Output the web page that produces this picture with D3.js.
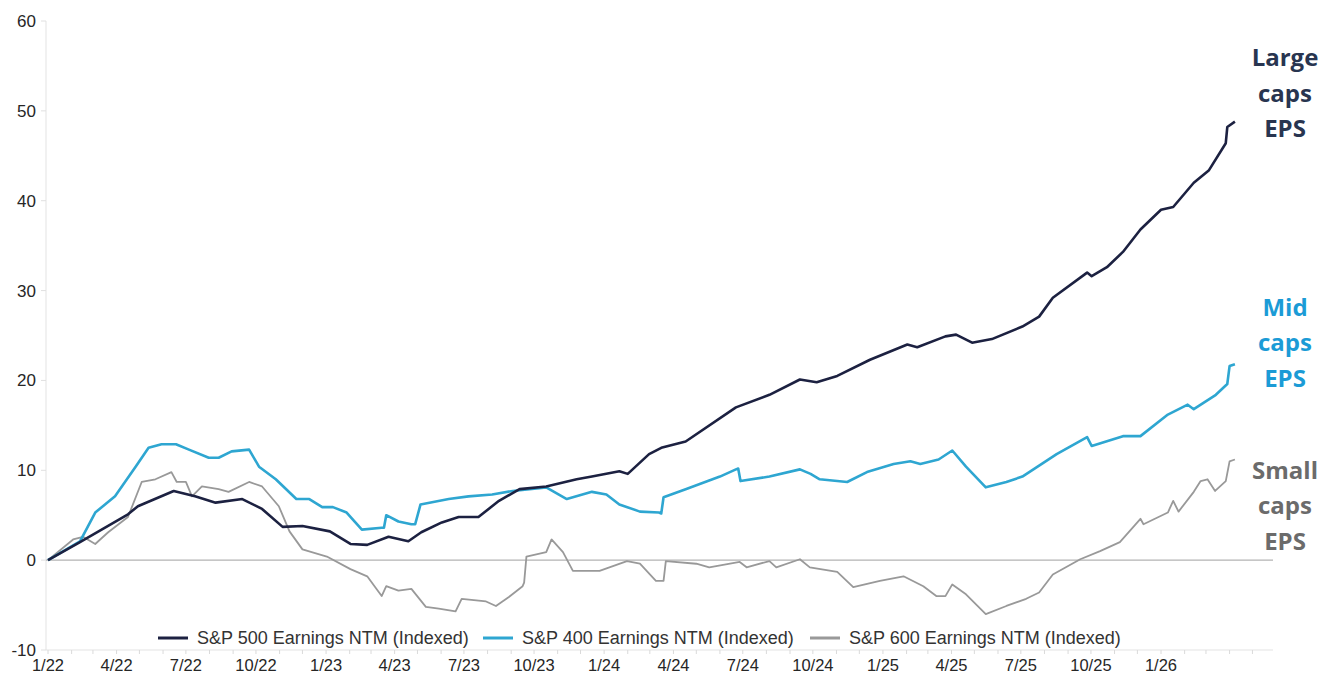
<!DOCTYPE html>
<html>
<head>
<meta charset="utf-8">
<script src="https://cdn.jsdelivr.net/npm/d3@7"></script>
<style>
  html, body { margin: 0; padding: 0; background: #fff; }
  svg { display: block; }
</style>
</head>
<body>
<svg id="chart" width="1322" height="677"></svg>
<script>
// ---------------- DATA ----------------
const yTicks = [-10, 0, 10, 20, 30, 40, 50, 60];
const xTickLabels = ["1/22","4/22","7/22","10/22","1/23","4/23","7/23","10/23","1/24","4/24","7/24","10/24","1/25","4/25","7/25","10/25","1/26"];

const largeDates = ["2022-01-01","2022-02-12","2022-04-16","2022-04-29","2022-06-15","2022-07-13","2022-08-09","2022-09-13","2022-10-09","2022-11-05","2022-12-01","2023-01-06","2023-02-02","2023-02-24","2023-03-24","2023-04-19","2023-05-06","2023-06-02","2023-06-24","2023-07-20","2023-08-16","2023-09-12","2023-10-17","2023-11-26","2023-12-16","2024-01-21","2024-02-01","2024-02-29","2024-03-16","2024-04-17","2024-06-22","2024-08-05","2024-09-14","2024-10-06","2024-11-02","2024-12-15","2025-02-02","2025-02-15","2025-03-24","2025-04-07","2025-04-28","2025-05-24","2025-07-03","2025-07-25","2025-08-12","2025-09-26","2025-10-02","2025-10-22","2025-11-12","2025-12-05","2026-01-01","2026-01-17","2026-02-13","2026-03-05","2026-03-27","2026-03-29","2026-04-08"];
const largeValues = [0,2.0,5.1,6.0,7.7,7.1,6.4,6.8,5.7,3.7,3.8,3.2,1.8,1.7,2.6,2.1,3.1,4.2,4.8,4.8,6.6,7.9,8.2,9.0,9.3,9.9,9.6,11.8,12.5,13.2,17.0,18.4,20.1,19.8,20.5,22.3,24.0,23.7,24.9,25.1,24.2,24.6,26.0,27.1,29.2,32.0,31.6,32.6,34.3,36.8,39.0,39.3,42.0,43.4,46.4,48.2,48.8];

const midDates = ["2022-01-01","2022-02-12","2022-03-04","2022-03-30","2022-04-26","2022-05-13","2022-05-30","2022-06-18","2022-07-05","2022-07-31","2022-08-13","2022-08-30","2022-09-22","2022-10-05","2022-10-27","2022-11-23","2022-12-10","2022-12-27","2023-01-10","2023-01-28","2023-02-17","2023-03-15","2023-03-18","2023-03-21","2023-04-06","2023-04-23","2023-04-28","2023-05-05","2023-06-11","2023-07-07","2023-08-07","2023-09-03","2023-10-17","2023-11-13","2023-12-16","2024-01-04","2024-01-21","2024-02-17","2024-03-13","2024-03-16","2024-03-19","2024-04-17","2024-06-01","2024-06-22","2024-06-25","2024-06-28","2024-08-05","2024-09-14","2024-09-28","2024-10-10","2024-11-15","2024-12-11","2025-01-15","2025-02-06","2025-02-19","2025-03-15","2025-04-02","2025-04-20","2025-05-16","2025-06-12","2025-07-03","2025-08-17","2025-09-26","2025-10-02","2025-11-12","2025-12-05","2026-01-10","2026-02-05","2026-02-13","2026-03-14","2026-03-29","2026-04-01","2026-04-08"];
const midValues = [0,2.1,5.3,7.1,10.4,12.5,12.9,12.9,12.3,11.4,11.4,12.1,12.3,10.4,9.0,6.8,6.8,5.9,5.9,5.3,3.4,3.6,3.6,5.0,4.3,4.0,4.0,6.2,6.8,7.1,7.3,7.7,8.1,6.8,7.6,7.3,6.2,5.4,5.3,5.2,7.0,7.9,9.3,10.1,10.2,8.8,9.3,10.1,9.6,9.0,8.7,9.8,10.7,11.0,10.7,11.2,12.2,10.4,8.1,8.7,9.3,11.8,13.7,12.7,13.8,13.8,16.2,17.3,16.8,18.4,19.6,21.6,21.8];

const smallDates = ["2022-01-01","2022-02-03","2022-02-16","2022-03-04","2022-03-21","2022-04-16","2022-05-04","2022-05-22","2022-06-12","2022-06-19","2022-07-01","2022-07-09","2022-07-22","2022-08-13","2022-08-26","2022-09-22","2022-10-09","2022-10-31","2022-11-14","2022-12-01","2023-01-02","2023-02-02","2023-02-24","2023-03-15","2023-03-21","2023-04-06","2023-04-23","2023-05-12","2023-05-29","2023-06-20","2023-06-28","2023-07-30","2023-08-12","2023-08-29","2023-09-16","2023-09-18","2023-09-21","2023-10-17","2023-10-24","2023-11-08","2023-11-21","2023-12-26","2024-01-31","2024-02-17","2024-03-09","2024-03-19","2024-03-22","2024-05-01","2024-05-18","2024-06-27","2024-07-06","2024-08-05","2024-08-14","2024-09-14","2024-09-27","2024-11-02","2024-11-23","2024-12-28","2025-01-28","2025-02-23","2025-03-12","2025-03-24","2025-04-02","2025-04-20","2025-05-16","2025-06-12","2025-07-08","2025-07-25","2025-08-12","2025-09-17","2025-10-13","2025-11-08","2025-12-05","2025-12-09","2026-01-10","2026-01-17","2026-01-24","2026-02-13","2026-02-22","2026-03-03","2026-03-13","2026-03-27","2026-04-01","2026-04-08"];
const smallValues = [0,2.3,2.6,1.8,3.1,4.8,8.7,9.0,9.8,8.7,8.7,7.1,8.2,7.9,7.6,8.7,8.2,6.0,3.2,1.2,0.4,-1.0,-1.8,-4.0,-2.9,-3.4,-3.2,-5.2,-5.4,-5.7,-4.3,-4.6,-5.1,-4.1,-2.9,-2.5,0.4,0.9,2.3,0.9,-1.2,-1.2,-0.1,-0.4,-2.3,-2.3,-0.1,-0.4,-0.8,-0.2,-0.8,-0.1,-0.8,0.1,-0.8,-1.3,-3.0,-2.3,-1.8,-2.9,-4.0,-4.0,-2.7,-3.8,-6.0,-5.1,-4.3,-3.6,-1.6,0.1,1.0,2.0,4.6,4.0,5.3,6.6,5.4,7.6,8.8,9.0,7.7,8.8,11.0,11.2];

const seriesNames = ["S&P 500 Earnings NTM (Indexed)", "S&P 400 Earnings NTM (Indexed)", "S&P 600 Earnings NTM (Indexed)"];
const seriesColors = ["#1c2141", "#2ea6d1", "#999999"];
const endLabels = [["Large","caps","EPS"], ["Mid","caps","EPS"], ["Small","caps","EPS"]];
const endLabelColors = ["#283550", "#1b9bd6", "#6b6b6b"];

// ---------------- CHART ----------------
const parse = d3.timeParse("%Y-%m-%d");
const svg = d3.select("#chart");
const font = "'Liberation Sans', Arial, sans-serif";

const x = d3.scaleTime()
  .domain([parse("2022-01-01"), parse("2026-05-28")])
  .range([48, 1273]);
const y = d3.scaleLinear().domain([-10, 60]).range([650, 21]);

// y axis line
svg.append("line").attr("x1", 46).attr("x2", 46).attr("y1", 21).attr("y2", 650)
  .attr("stroke", "#e3e3e3").attr("stroke-width", 1);

// y ticks + labels
const yg = svg.append("g");
yTicks.forEach(t => {
  yg.append("line").attr("x1", 41).attr("x2", 46).attr("y1", y(t)).attr("y2", y(t))
    .attr("stroke", "#e0e0e0");
  yg.append("text").attr("x", 36).attr("y", y(t)).attr("dy", "0.35em")
    .attr("text-anchor", "end").attr("font-family", font).attr("font-size", 17)
    .attr("fill", "#262626").text(t);
});

// bottom axis line at -10
svg.append("line").attr("x1", 46).attr("x2", 1273).attr("y1", y(-10)).attr("y2", y(-10))
  .attr("stroke", "#e3e3e3");

// monthly minor ticks
const months = d3.timeMonth.range(parse("2022-01-01"), parse("2026-05-02"));
svg.append("g").selectAll("line").data(months).join("line")
  .attr("x1", d => x(d)).attr("x2", d => x(d))
  .attr("y1", y(-10)).attr("y2", y(-10) + 4)
  .attr("stroke", "#dadada");

// quarterly labels
const quarters = d3.timeMonth.every(3).range(parse("2022-01-01"), parse("2026-01-02"));
svg.append("g").selectAll("text").data(quarters).join("text")
  .attr("x", d => x(d)).attr("y", 671)
  .attr("text-anchor", "middle").attr("font-family", font).attr("font-size", 16.5)
  .attr("fill", "#262626")
  .text((d, i) => xTickLabels[i]);

// zero line
svg.append("line").attr("x1", 46).attr("x2", 1273).attr("y1", y(0)).attr("y2", y(0))
  .attr("stroke", "#b3b3b3").attr("stroke-width", 1.2);

// series
const series = [
  largeDates.map((d, i) => ({ date: parse(d), value: largeValues[i] })),
  midDates.map((d, i) => ({ date: parse(d), value: midValues[i] })),
  smallDates.map((d, i) => ({ date: parse(d), value: smallValues[i] }))
];
const widths = [2.6, 2.6, 1.8];
const line = d3.line().x(d => x(d.date)).y(d => y(d.value));
[2, 1, 0].forEach(k => {
  svg.append("path").datum(series[k])
    .attr("fill", "none").attr("stroke", seriesColors[k])
    .attr("stroke-width", widths[k]).attr("stroke-linejoin", "round")
    .attr("d", line);
});

// legend
const legendX = [158, 483, 810];
seriesNames.forEach((n, i) => {
  svg.append("line").attr("x1", legendX[i]).attr("x2", legendX[i] + 30)
    .attr("y1", 638).attr("y2", 638)
    .attr("stroke", seriesColors[i]).attr("stroke-width", 3);
  svg.append("text").attr("x", legendX[i] + 39).attr("y", 638).attr("dy", "0.35em")
    .attr("font-family", font).attr("font-size", 18).attr("fill", "#333")
    .text(n);
});

// end labels
const labelBase = [66, 315.5, 478.5];
endLabels.forEach((lines, i) => {
  lines.forEach((t, j) => {
    svg.append("text").attr("x", 1285).attr("y", labelBase[i] + j * 35.5)
      .attr("text-anchor", "middle")
      .attr("font-family", "'Open Sans', sans-serif").attr("font-weight", 700)
      .attr("font-size", 24).attr("fill", endLabelColors[i])
      .text(t);
  });
});
</script>
</body>
</html>
